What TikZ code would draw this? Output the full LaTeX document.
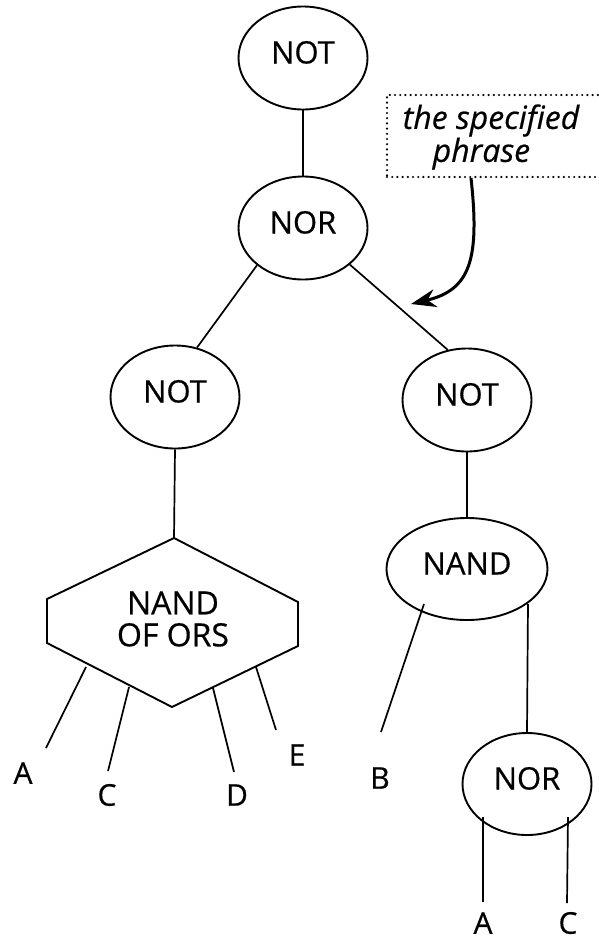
\documentclass[tikz,border=0pt]{standalone}
\usepackage{fontspec}
\setmainfont{Open Sans}[FakeBold=0.5]
\usetikzlibrary{shapes.geometric,arrows.meta,calc}

\begin{document}
\begin{tikzpicture}[x=1pt,y=-1pt,
  gate/.style={ellipse,draw,line width=1.9pt,inner sep=0pt,
    minimum width=129pt,minimum height=103pt,
    font=\fontsize{31}{33}\selectfont,text height=22pt,text depth=11pt},
  wire/.style={line width=1.7pt},
  lbl/.style={inner sep=0pt,font=\fontsize{30}{32}\selectfont},
  dotbox/.style={draw,line width=2.4pt,dash pattern=on 0pt off 5.2pt,line cap=round,
    inner sep=0pt,minimum width=223pt,minimum height=82pt},
  pointer/.style={line width=3pt,-{Stealth[length=25pt,width=18pt,inset=8pt]}}
]
\useasboundingbox (0,0) rectangle (598,940);

% gates of the parse tree
\node[gate] (not1) at (303,58) {NOT};
\node[gate] (nor1) at (303,228) {NOR};
\node[gate] (notL) at (175,397) {NOT};
\node[gate] (notR) at (467,400) {NOT};
\node[gate,minimum width=161pt,minimum height=102pt] (nand) at (467,569) {NAND};
\node[gate,minimum height=102pt] (nor2) at (527,784) {NOR};

% hexagonal gate
\coordinate (hT) at (174,538);
\coordinate (hUL) at (47,599);
\coordinate (hLL) at (47,643);
\coordinate (hB) at (172,707);
\coordinate (hLR) at (298,646);
\coordinate (hUR) at (298,602);
\draw[line width=1.9pt,line join=miter] (hT) -- (hUL) -- (hLL) -- (hB) -- (hLR) -- (hUR) -- cycle;
\node[inner sep=0pt,align=center,font=\fontsize{32}{32}\selectfont] (hexgate) at (173,619) {NAND\\OF ORS};

% tree edges
\draw[wire] (not1.south) -- (nor1.north);
\draw[wire] (nor1.219) -- (notL.66);
\draw[wire] (nor1.322) -- (notR.111);
\draw[wire] (notL.south) -- (hT);
\draw[wire] (notR.south) -- (nand.north);

% inputs of the hexagonal gate
\coordinate (hA) at (86,667);   \coordinate (eA) at (46,748);
\coordinate (hC) at (129,687);  \coordinate (eC) at (108,771);
\coordinate (hD) at (213,688);  \coordinate (eD) at (234,772);
\coordinate (hE) at (256,667);  \coordinate (eE) at (276,730);
\draw[wire] (hA) -- (eA);
\draw[wire] (hC) -- (eC);
\draw[wire] (hD) -- (eD);
\draw[wire] (hE) -- (eE);
\node[lbl] (inA) at (23,773) {A};
\node[lbl] (inC) at (107,795) {C};
\node[lbl] (inD) at (237,795) {D};
\node[lbl] (inE) at (297,755) {E};

% inputs of NAND and the lower NOR
\coordinate (nandB) at ($(nand.center)+(-43,35)$);
\coordinate (nandR) at ($(nand.center)+(61,35)$);
\coordinate (eB) at (381,732);
\draw[wire] (nandB) -- (eB);
\draw[wire] (nandR) -- (nor2.north);
\node[lbl] (inB) at (380,778) {B};

\coordinate (norA) at ($(nor2.center)+(-44,33)$);
\coordinate (norC) at ($(nor2.center)+(41,33)$);
\coordinate (eA2) at (483,902);
\coordinate (eC2) at (567,903);
\draw[wire] (norA) -- (eA2);
\draw[wire] (norC) -- (eC2);
\node[lbl] (inA2) at (483,923) {A};
\node[lbl] (inC2) at (568,923) {C};

% annotation
\node[dotbox] (phrasebox) at (498.5,136) {};
\node[inner sep=0pt,align=left,font=\fontsize{32}{33}\selectfont\itshape] (phrase) at (491,137)
  {the specified\\\hspace*{30pt}phrase};
\coordinate (tail) at (471,178);
\coordinate (tip) at (411,304);
\draw[pointer] (tail) .. controls (480,260) and (470,290) .. (tip);
\end{tikzpicture}
\end{document}
